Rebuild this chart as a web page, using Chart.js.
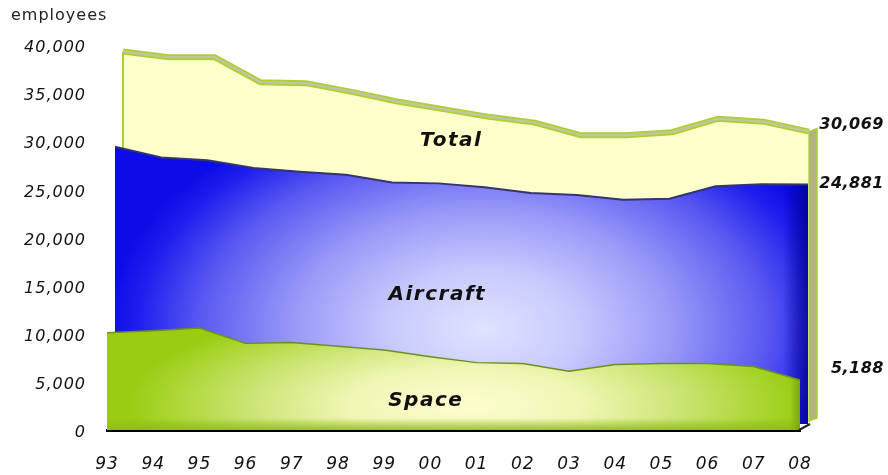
<!DOCTYPE html>
<html>
<head>
<meta charset="utf-8">
<script src="https://cdn.jsdelivr.net/npm/chart.js@4/dist/chart.umd.min.js"></script>
<style>
  html, body { margin: 0; padding: 0; background: #fff; }
  #wrap { width: 888px; height: 475px; }
</style>
</head>
<body>
<div id="wrap"><canvas id="employeesChart" width="888" height="475"></canvas></div>
<script>
const years = ['93', '94', '95', '96', '97', '98', '99', '00', '01', '02', '03', '04', '05', '06', '07', '08']
const total = [38400, 37800, 37800, 35200, 35100, 34200, 33200, 32400, 31600, 31000, 29700, 29700, 30000, 31400, 31100, 30069]
const aircraft = [28800, 27700, 27400, 26600, 26200, 25900, 25100, 25000, 24600, 24000, 23800, 23300, 23400, 24700, 24900, 24881]
const space = [10100, 10300, 10600, 9000, 9100, 8700, 8300, 7600, 7000, 6900, 6100, 6800, 6900, 6900, 6600, 5188]
const seriesNames = ['Space', 'Aircraft', 'Total']
const yMax = 40000
const yStep = 5000

const W = 888, H = 475
const canvas = document.getElementById('employeesChart')
const mainCtx = canvas.getContext('2d')

// depth of each layer: front (space) to back (total)
const layerShift = [
  { dx: 0, dy: 0, sx: 1 },
  { dx: 8, dy: -6, sx: 1 },
  { dx: 16, dy: -9, sx: 0.99 }
]

const offscreen = () => {
  const c = document.createElement('canvas')
  c.width = W
  c.height = H
  return c
}

const aircraftPaint = () => {
  const c = offscreen()
  const g = c.getContext('2d')
  g.fillStyle = '#0c0ce8'
  g.fillRect(0, 0, W, H)
  g.save()
  g.translate(475, 335)
  g.scale(1.6, 1)
  const rg = g.createRadialGradient(0, 0, 0, 0, 0, 235)
  rg.addColorStop(0, '#e0e2ff')
  rg.addColorStop(0.25, '#c8cafd')
  rg.addColorStop(0.5, '#9a9af8')
  rg.addColorStop(0.75, '#5a5af2')
  rg.addColorStop(0.92, '#1e1eee')
  rg.addColorStop(1, '#0c0ce8')
  g.fillStyle = rg
  g.fillRect(-400, -400, 800, 800)
  g.restore()
  const edge = g.createLinearGradient(775, 0, 800, 0)
  edge.addColorStop(0, 'rgba(0,0,140,0)')
  edge.addColorStop(1, 'rgba(0,0,140,0.75)')
  g.fillStyle = edge
  g.fillRect(775, 0, 40, H)
  return mainCtx.createPattern(c, 'no-repeat')
}

const spacePaint = () => {
  const c = offscreen()
  const g = c.getContext('2d')
  g.fillStyle = '#9ccb14'
  g.fillRect(0, 0, W, H)
  g.save()
  g.translate(465, 405)
  g.scale(3.2, 1)
  const rg = g.createRadialGradient(0, 0, 0, 0, 0, 105)
  rg.addColorStop(0, '#fdfdd0')
  rg.addColorStop(0.35, '#f0f6b4')
  rg.addColorStop(0.65, '#cae472')
  rg.addColorStop(0.9, '#a8d42c')
  rg.addColorStop(1, '#9ccb14')
  g.fillStyle = rg
  g.fillRect(-300, -400, 600, 800)
  g.restore()
  const floor = g.createLinearGradient(0, 418, 0, 430)
  floor.addColorStop(0, 'rgba(140,185,20,0)')
  floor.addColorStop(1, 'rgba(140,185,20,0.85)')
  g.fillStyle = floor
  g.fillRect(0, 418, W, 14)
  const edge = g.createLinearGradient(790, 0, 800, 0)
  edge.addColorStop(0, 'rgba(120,160,20,0)')
  edge.addColorStop(1, 'rgba(120,160,20,0.9)')
  g.fillStyle = edge
  g.fillRect(790, 0, 12, H)
  return mainCtx.createPattern(c, 'no-repeat')
}

const tracePath = (ctx, pts) => {
  ctx.beginPath()
  pts.forEach((p, i) => i ? ctx.lineTo(p.x, p.y) : ctx.moveTo(p.x, p.y))
}

const depthPlugin = {
  id: 'depth',
  beforeDraw: chart => {
    chart.ctx.letterSpacing = '1px'
  },
  beforeDatasetDraw: (chart, args) => {
    const s = layerShift[args.index]
    const ctx = chart.ctx
    const left = chart.chartArea.left
    ctx.save()
    ctx.translate(left + s.dx, s.dy)
    ctx.scale(s.sx, 1)
    ctx.translate(-left, 0)
  },
  afterDatasetDraw: (chart, args) => {
    const ctx = chart.ctx
    const pts = args.meta.data
    const base = chart.scales.y.getPixelForValue(0)
    if (args.index === 2) {
      const first = pts[0]
      const last = pts[pts.length - 1]
      // right side face of the back layer
      ctx.beginPath()
      ctx.moveTo(last.x, last.y)
      ctx.lineTo(last.x + 8, last.y - 3)
      ctx.lineTo(last.x + 8, base - 3)
      ctx.lineTo(last.x, base)
      ctx.closePath()
      ctx.fillStyle = '#b2b286'
      ctx.fill()
      ctx.strokeStyle = '#a9d22c'
      ctx.lineWidth = 1.5
      ctx.stroke()
      // left edge
      ctx.beginPath()
      ctx.moveTo(first.x, first.y)
      ctx.lineTo(first.x, base)
      ctx.strokeStyle = '#a9d22c'
      ctx.lineWidth = 2
      ctx.stroke()
      // grey top face inside the green rim
      tracePath(ctx, pts)
      ctx.strokeStyle = '#c4c4a2'
      ctx.lineWidth = 2.5
      ctx.lineJoin = 'round'
      ctx.stroke()
    }
    ctx.restore()
  },
  afterDraw: chart => {
    const ctx = chart.ctx
    const { right, bottom } = chart.chartArea
    ctx.save()
    ctx.strokeStyle = '#222'
    ctx.lineWidth = 2
    ctx.beginPath()
    ctx.moveTo(right - 1, bottom)
    ctx.lineTo(right + 10, bottom - 6)
    ctx.stroke()
    ctx.restore()
  }
}

const labelPlugin = {
  id: 'seriesLabels',
  afterDatasetsDraw: chart => {
    const ctx = chart.ctx
    const x = chart.scales.x
    const y = chart.scales.y
    ctx.save()
    ctx.fillStyle = '#111'
    ctx.textBaseline = 'middle'

    // series names inside the areas
    ctx.font = 'italic bold 20px "DejaVu Sans"'
    ctx.letterSpacing = '1.5px'
    ctx.textAlign = 'center'
    const namePos = [[6.9, 3000], [7.15, 14000], [7.45, 30000]]
    namePos.forEach(([i, v], k) => {
      ctx.fillText(seriesNames[k], x.getPixelForValue(i), y.getPixelForValue(v))
    })

    // last values at the right edge
    ctx.font = 'italic bold 16px "DejaVu Sans"'
    ctx.letterSpacing = '0.5px'
    ctx.textAlign = 'right'
    const nudge = [-11, -1, -7]
    const lastVals = [space, aircraft, total].map(a => a[a.length - 1])
    lastVals.forEach((v, k) => {
      const py = y.getPixelForValue(v) + layerShift[k].dy + nudge[k]
      ctx.fillText(v.toLocaleString('en-US'), chart.width - 4, py)
    })

    // unit caption
    ctx.font = '16px "DejaVu Sans"'
    ctx.letterSpacing = '1px'
    ctx.textAlign = 'left'
    ctx.textBaseline = 'alphabetic'
    ctx.fillStyle = '#222'
    ctx.fillText('employees', 11, 20)
    ctx.restore()
  }
}

// the filler has to run after the depth shift so fills move with their layer
const fillerPlugin = Chart.registry.getPlugin('filler')
Chart.unregister(fillerPlugin)
Chart.register(depthPlugin, fillerPlugin)

const layer = (data, fill, border, width) => ({
  data,
  fill: 'origin',
  backgroundColor: fill,
  borderColor: border,
  borderWidth: width,
  borderJoinStyle: 'round',
  pointRadius: 0,
  tension: 0,
  clip: false
})

const tickFont = { family: 'DejaVu Sans', style: 'italic', size: 17 }

new Chart(canvas, {
  type: 'line',
  data: {
    labels: years,
    datasets: [
      layer(space, spacePaint(), '#6e8e1e', 1.5),
      layer(aircraft, aircraftPaint(), '#34346e', 2),
      layer(total, '#ffffcc', '#a9d22c', 6)
    ]
  },
  options: {
    responsive: false,
    animation: false,
    devicePixelRatio: 1,
    layout: { padding: { left: 0, right: 88, top: 45, bottom: 0 } },
    plugins: {
      legend: { display: false },
      tooltip: { enabled: false }
    },
    scales: {
      x: {
        offset: false,
        grid: { display: false, drawTicks: false },
        border: { display: true, color: '#000', width: 3 },
        ticks: { color: '#111', font: tickFont, padding: 24, maxRotation: 0, autoSkip: false },
        afterFit: scale => { scale.height = 45 }
      },
      y: {
        min: 0,
        max: yMax,
        grid: { display: false, drawTicks: false },
        border: { display: false },
        ticks: { stepSize: yStep, color: '#111', font: { ...tickFont, size: 16 }, padding: 21, labelOffset: 3 },
        afterFit: scale => { scale.width = 107 }
      }
    }
  },
  plugins: [labelPlugin]
})
</script>
</body>
</html>
